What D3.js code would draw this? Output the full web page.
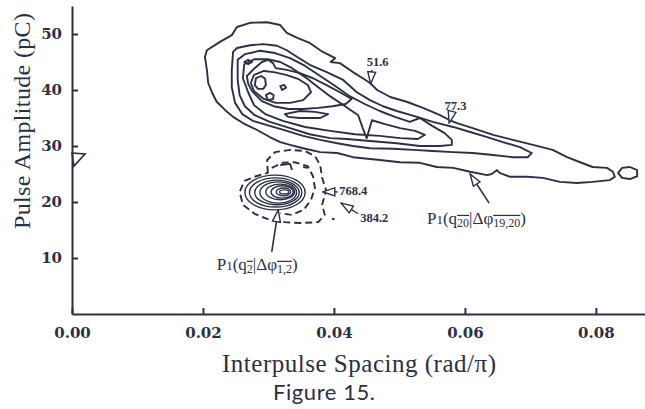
<!doctype html>
<html>
<head>
<meta charset="utf-8">
<title>Figure 15</title>
<script src="https://d3js.org/d3.v7.min.js"></script>
<style>
  body { margin: 0; background: #fff; }
  .contour { fill: none; stroke: #2c3044; stroke-width: 1.9px; stroke-linejoin: round; }
  .dashed { stroke-dasharray: 7,4; }
  .axis path, .axis line { stroke: #2c3044; stroke-width: 2px; }
  .axis text { font-family: "DejaVu Serif", serif; font-weight: bold; font-size: 15px; fill: #2c3044; }
  .note { font-family: "Liberation Serif", serif; font-weight: bold; font-size: 12.5px; fill: #2c3044; }
  .plabel { font-family: "Liberation Serif", serif; font-size: 17px; fill: #2c3044; }
  .title { font-family: "Liberation Serif", serif; font-size: 25px; fill: #2c3044; }
  .fig { font-family: Lato, sans-serif; font-size: 22px; fill: #2c3044; }
</style>
</head>
<body>
<div id="chart"></div>
<script>
// tick values
var xTicks = [0, 0.02, 0.04, 0.06, 0.08];
var yTicks = [10, 20, 30, 40, 50];

// main lobe, p1(q20 | dphi19,20): contour rings, [spacing rad/pi, amplitude pC]
var ringA = [[0.0206,47.1],[0.0226,48.6],[0.0244,49.8],[0.0252,51.25],[0.0272,52.0],[0.0298,52.1],[0.0318,51.6],
  [0.0328,50.2],[0.0344,49.3],[0.0363,48.4],[0.0383,46.8],[0.0402,45.7],[0.0395,45.0],[0.0409,44.8],[0.0429,43.2],
  [0.0444,42.1],[0.0455,41.25],[0.0466,40.0],[0.0486,38.75],[0.0511,37.9],[0.0536,36.8],[0.0562,35.5],[0.0577,34.6],
  [0.0588,34.1],[0.0612,33.2],[0.0643,32.0],[0.0673,31.1],[0.0704,30.2],[0.0734,29.3],[0.0756,28.0],[0.0776,27.1],
  [0.0795,26.25],[0.0817,26.1],[0.0826,25.4],[0.0829,24.5],[0.0821,23.9],[0.0795,23.6],[0.0771,23.4],[0.0745,23.6],
  [0.0719,24.3],[0.0695,24.5],[0.0669,24.5],[0.0653,25.2],[0.0649,25.7],[0.0641,25.0],[0.0634,24.8],[0.0608,25.4],
  [0.0582,26.1],[0.0557,26.25],[0.0531,27.0],[0.0501,27.1],[0.0470,27.5],[0.0429,28.0],[0.0405,28.75],[0.0379,28.9],
  [0.0353,29.6],[0.0333,30.2],[0.0318,30.7],[0.0302,31.6],[0.0282,32.9],[0.0261,34.1],[0.0246,35.2],[0.0234,36.4],
  [0.0221,37.9],[0.0214,39.5],[0.0208,41.25],[0.0206,43.6],[0.0203,45.9]];

var ringB = [[0.0246,46.8],[0.0252,47.5],[0.0272,48.0],[0.0292,48.2],[0.0313,47.9],[0.0328,47.1],[0.0344,45.9],
  [0.0363,44.5],[0.0389,43.2],[0.0414,41.8],[0.0435,39.6],[0.0455,38.2],[0.0475,37.1],[0.0496,36.25],[0.0527,35.2],
  [0.0551,34.3],[0.0582,33.4],[0.0608,32.5],[0.0634,31.6],[0.0658,30.7],[0.0684,29.8],[0.0702,28.75],[0.0696,28.0],
  [0.0673,28.0],[0.0643,28.4],[0.0612,28.75],[0.0582,28.9],[0.0551,29.1],[0.0521,29.3],[0.0490,29.5],[0.0455,29.6],
  [0.0429,30.0],[0.0405,30.5],[0.0379,31.1],[0.0353,31.8],[0.0328,32.7],[0.0302,33.6],[0.0276,34.5],[0.0260,35.7],
  [0.0249,37.7],[0.0244,40.5],[0.0244,43.6]];

var ringC = [[0.0253,45.4],[0.0264,46.4],[0.0287,47.0],[0.0310,46.6],[0.0333,45.7],[0.0356,44.3],[0.0379,42.5],
  [0.0402,40.7],[0.0424,38.9],[0.0447,37.5],[0.0470,36.25],[0.0493,35.2],[0.0516,34.3],[0.0531,35.0],[0.0550,33.6],
  [0.0569,32.3],[0.0580,31.1],[0.0580,30.2],[0.0562,30.0],[0.0531,30.0],[0.0496,30.5],[0.0455,30.9],[0.0420,31.25],
  [0.0394,31.4],[0.0363,32.1],[0.0333,33.2],[0.0302,34.3],[0.0279,35.5],[0.0264,37.1],[0.0256,39.1],[0.0253,41.8]];

var ringD = [[0.0263,44.6],[0.0279,45.5],[0.0299,45.5],[0.0318,45.0],[0.0336,43.9],[0.0356,42.3],[0.0376,40.5],
  [0.0394,38.9],[0.0417,37.1],[0.0437,35.5],[0.0444,33.2],[0.0450,31.4],[0.0458,34.6],[0.0478,33.9],[0.0501,33.2],
  [0.0524,32.7],[0.0539,32.0],[0.0528,31.25],[0.0501,31.4],[0.0470,31.8],[0.0432,32.1],[0.0394,32.7],[0.0356,33.4],
  [0.0322,34.5],[0.0295,35.7],[0.0278,37.3],[0.0269,39.6],[0.0261,42.1]];

var ringE = [[0.0267,42.5],[0.0279,43.9],[0.0290,45.0],[0.0299,45.4],[0.0307,44.8],[0.0311,43.9],[0.0328,43.6],
  [0.0348,43.0],[0.0368,42.1],[0.0388,40.9],[0.0409,39.6],[0.0427,38.4],[0.0418,37.5],[0.0398,37.1],[0.0376,36.8],
  [0.0353,36.6],[0.0330,36.6],[0.0308,37.1],[0.0290,38.0],[0.0275,39.8],[0.0269,41.1]];

var ringF = [[0.0273,41.25],[0.0278,42.7],[0.0293,43.4],[0.0308,43.2],[0.0327,42.7],[0.0345,42.0],[0.0360,40.9],
  [0.0365,39.6],[0.0353,38.2],[0.0333,37.7],[0.0311,37.7],[0.0293,38.4],[0.0278,39.8]];

// small closed loops near the peak of the main lobe
var loopG = [[0.0281,42.1],[0.0289,42.5],[0.0295,42.0],[0.0296,40.9],[0.0292,40.2],[0.0284,40.2],[0.0279,40.9]];
var loopH = [[0.0296,39.1],[0.0302,39.5],[0.0308,39.1],[0.0307,38.4],[0.0299,38.2]];
var loopI = [[0.0318,40.7],[0.0324,40.9],[0.0327,40.4],[0.0321,40.0]];
var loopJ = [[0.0263,45.0],[0.0269,45.4],[0.0275,45.0],[0.0269,44.6]];
var loopK = [[0.0325,35.7],[0.0348,36.25],[0.0371,36.1],[0.0391,35.7],[0.0379,35.0],[0.0348,35.0],[0.0330,35.2]];
var tipLoop = [[0.0834,25.2],[0.0840,26.1],[0.0852,26.25],[0.0863,25.7],[0.0863,24.6],[0.0852,24.1],[0.0840,24.3]];

// lower cluster, p1(q2 | dphi1,2)
var clusterOuter = [[0.0299,25.2],[0.0298,27.5],[0.0310,28.9],[0.0333,29.3],[0.0356,29.1],[0.0371,28.2],[0.0379,26.6],
  [0.0382,24.3],[0.0388,22.1],[0.0382,19.5],[0.0386,17.7],[0.0376,16.4],[0.0348,16.25],[0.0325,16.4],[0.0302,16.8],
  [0.0279,17.9],[0.0261,19.5],[0.0256,21.8],[0.0263,23.75],[0.0281,24.6]];
var clusterInner = [[0.0305,26.1],[0.0322,27.0],[0.0340,27.1],[0.0360,26.4],[0.0368,24.6],[0.0371,22.5],[0.0365,20.4],
  [0.0354,18.6],[0.0336,17.7],[0.0318,18.0]];
var clusterBits = [
  [[0.0318,26.6],[0.0333,26.8],[0.0336,25.7]],
  [[0.0353,26.25],[0.0360,26.1]],
  [[0.0397,17.0],[0.0401,16.9]]
];
// peak rings: [centre spacing, centre amplitude, half width, half height]
var peakRings = [[0.0310,21.7,0.0046,3.1],[0.0311,21.7,0.0040,2.6],[0.0313,21.7,0.0034,2.2],[0.0315,21.7,0.0028,1.9],
  [0.0318,21.8,0.0022,1.4],[0.0321,21.8,0.0017,1.1],[0.0323,21.8,0.0011,0.7],[0.0324,21.8,0.0007,0.36]];

// contour level labels and arrows: text anchor, arrow tail, arrow tip
var levelNotes = [
  {text: "51.6",  at: [0.0450,44.3], from: [0.0458,43.6], to: [0.0456,41.1]},
  {text: "77.3",  at: [0.0569,36.4], from: [0.0580,36.0], to: [0.0576,34.1]},
  {text: "768.4", at: [0.0408,21.2], from: [0.0406,21.8], to: [0.0383,21.8]},
  {text: "384.2", at: [0.0440,16.4], from: [0.0437,17.9], to: [0.0411,19.8]}
];
var pNotes = [
  {sub1: "2",  sub2: "1,2",   at: [0.0221,7.9],  from: [0.0305,11.1], to: [0.0315,18.6]},
  {sub1: "20", sub2: "19,20", at: [0.0542,16.1], from: [0.0637,19.8], to: [0.0608,25.0]}
];
var axisMark = [[0,28.75],[0.0020,28.6],[0.0003,26.4]];

var width = 645, height = 409;
var x = d3.scaleLinear().domain([0, 0.0875]).range([72, 645]);
var y = d3.scaleLinear().domain([0, 55]).range([314, 6]);

var svg = d3.select("#chart").append("svg")
    .attr("width", width)
    .attr("height", height);

var ink = "#2c3044";

svg.append("defs").append("marker")
    .attr("id", "head")
    .attr("markerUnits", "userSpaceOnUse")
    .attr("markerWidth", 14).attr("markerHeight", 10)
    .attr("viewBox", "-1 -1 14 10")
    .attr("refX", 12).attr("refY", 4)
    .attr("orient", "auto")
  .append("path")
    .attr("d", "M0,0L12,4L0,8Z")
    .attr("fill", "#fff")
    .attr("stroke", ink)
    .attr("stroke-width", 1.4);

var ringLine = d3.line().x(d => x(d[0])).y(d => y(d[1])).curve(d3.curveLinearClosed);
var segLine = d3.line().x(d => x(d[0])).y(d => y(d[1]));

// axes
svg.append("g")
    .attr("class", "axis")
    .attr("transform", "translate(0," + y(0) + ")")
    .call(d3.axisBottom(x).tickValues(xTicks).tickFormat(d3.format(".2f"))
      .tickSizeInner(-6).tickSizeOuter(0).tickPadding(13));

svg.append("g")
    .attr("class", "axis")
    .attr("transform", "translate(" + x(0) + ",0)")
    .call(d3.axisLeft(y).tickValues(yTicks).tickSizeInner(-6).tickSizeOuter(0).tickPadding(10));

// contours
var rings = [ringA, ringB, ringC, ringD, ringE, ringF, loopG, loopH, loopI, loopJ, loopK, tipLoop];
svg.selectAll("path.ring")
    .data(rings)
  .enter().append("path")
    .attr("class", "contour ring")
    .attr("d", ringLine);

svg.append("path").attr("class", "contour dashed").attr("d", ringLine(clusterOuter));
svg.append("path").attr("class", "contour dashed").attr("d", segLine(clusterInner));
svg.selectAll("path.bit")
    .data(clusterBits)
  .enter().append("path")
    .attr("class", "contour bit")
    .attr("d", segLine);

svg.selectAll("ellipse.peak")
    .data(peakRings)
  .enter().append("ellipse")
    .attr("class", "contour peak")
    .attr("cx", d => x(d[0]))
    .attr("cy", d => y(d[1]))
    .attr("rx", d => x(d[0] + d[2]) - x(d[0]))
    .attr("ry", d => y(d[1] - d[3]) - y(d[1]))
    .style("stroke-width", "1.4px");

svg.append("path")
    .attr("d", ringLine(axisMark))
    .attr("fill", "none")
    .attr("stroke", ink)
    .attr("stroke-width", 1.6);

// level labels
levelNotes.forEach(function(n) {
  svg.append("path")
      .attr("d", segLine([n.from, n.to]))
      .attr("stroke", ink).attr("stroke-width", 1.4)
      .attr("marker-end", "url(#head)");
  svg.append("text")
      .attr("class", "note")
      .attr("x", x(n.at[0]))
      .attr("y", y(n.at[1]))
      .text(n.text);
});

// P1 labels, barred subscripts
pNotes.forEach(function(n) {
  svg.append("path")
      .attr("d", segLine([n.from, n.to]))
      .attr("stroke", ink).attr("stroke-width", 1.6)
      .attr("marker-end", "url(#head)");
  var t = svg.append("text")
      .attr("class", "plabel")
      .attr("x", x(n.at[0]))
      .attr("y", y(n.at[1]));
  t.append("tspan").text("P");
  t.append("tspan").attr("font-size", 13).text("1");
  t.append("tspan").text("(q");
  t.append("tspan").attr("font-size", 12).attr("dy", 3)
      .style("text-decoration", "overline").text(n.sub1);
  t.append("tspan").attr("dy", -3).text("|Δφ");
  t.append("tspan").attr("font-size", 12).attr("dy", 3)
      .style("text-decoration", "overline").text(n.sub2);
  t.append("tspan").attr("dy", -3).text(")");
});

// titles
svg.append("text")
    .attr("class", "title")
    .attr("x", 359).attr("y", 372)
    .attr("text-anchor", "middle")
    .attr("textLength", 274)
    .text("Interpulse Spacing (rad/π)");

svg.append("text")
    .attr("class", "title")
    .attr("transform", "translate(30,121) rotate(-90)")
    .attr("text-anchor", "middle")
    .attr("textLength", 216)
    .style("font-size", "24px")
    .text("Pulse Amplitude (pC)");

svg.append("text")
    .attr("class", "fig")
    .attr("x", 324).attr("y", 400)
    .attr("text-anchor", "middle")
    .attr("textLength", 102)
    .text("Figure 15.");
</script>
</body>
</html>
